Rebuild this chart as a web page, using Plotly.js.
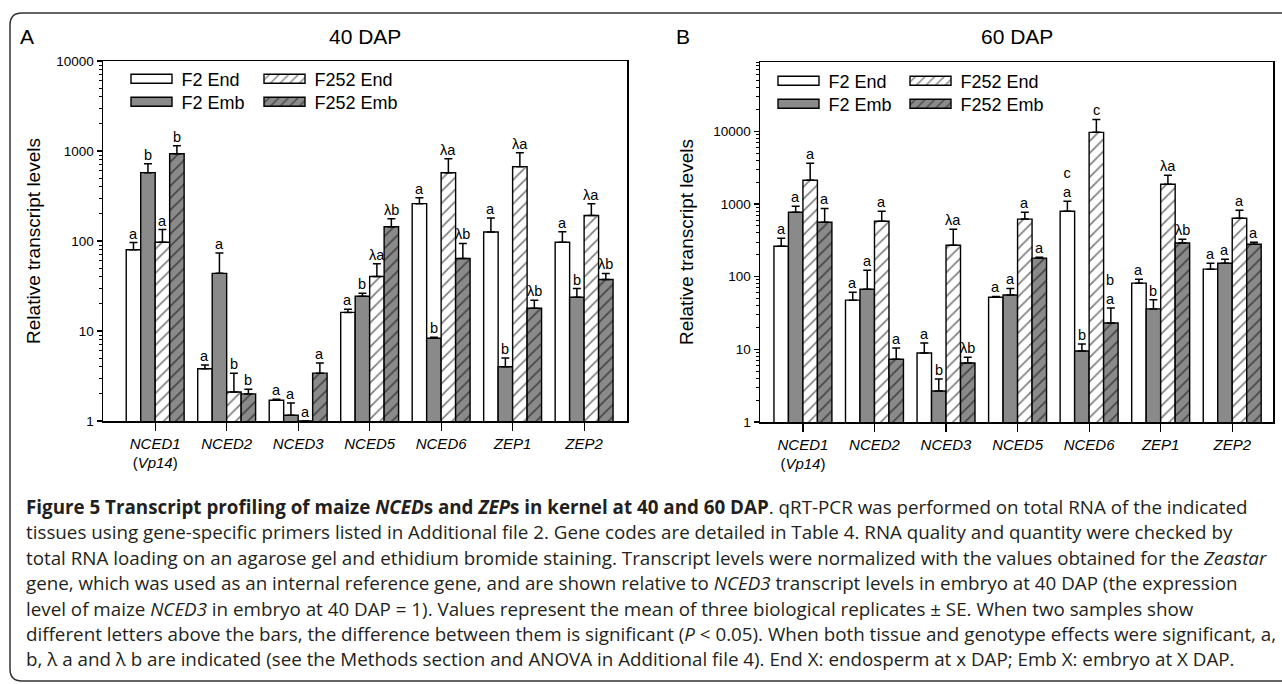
<!DOCTYPE html>
<html><head><meta charset="utf-8">
<script src="https://cdn.plot.ly/plotly-3.0.1.min.js"></script>
<style>html,body{margin:0;padding:0;background:#fff}#chart{width:1282px;height:684px}</style>
</head><body><div id="chart"></div>
<script>
// ---------------- data ----------------
const genes = ['NCED1','NCED2','NCED3','NCED5','NCED6','ZEP1','ZEP2'];
const geneLabels = ['<i>NCED1</i><br>(<i>Vp14</i>)','<i>NCED2</i>','<i>NCED3</i>','<i>NCED5</i>','<i>NCED6</i>','<i>ZEP1</i>','<i>ZEP2</i>'];
const seriesNames = ['F2 End','F2 Emb','F252 End','F252 Emb'];

// 40 DAP
const dap40_F2End      = [80, 3.8, 1.7, 16.1, 260, 126, 97];
const dap40_F2End_se   = [16, 0.4, 0.05, 1.3, 43, 54, 30];
const dap40_F2Emb      = [575, 43.7, 1.16, 24.3, 8.3, 4.0, 23.7];
const dap40_F2Emb_se   = [147, 30, 0.42, 1.9, 0.2, 1.0, 5.9];
const dap40_F252End    = [97, 2.1, 1.0, 40.4, 574, 670, 192];
const dap40_F252End_se = [37, 1.3, 0, 15.6, 246, 286, 68];
const dap40_F252Emb    = [933, 2.0, 3.4, 144, 64, 17.9, 37.4];
const dap40_F252Emb_se = [210, 0.26, 1.0, 33, 30, 4.0, 6.2];
const dap40_letters = [
  ['a','a','a','a','a','a','a'],
  ['b','a','a','b','b','b','b'],
  ['a','b','a','λa','λa','λa','λa'],
  ['b','b','a','λb','λb','λb','λb']
];

// 60 DAP
const dap60_F2End      = [262, 47.5, 8.9, 52, 795, 81.5, 127];
const dap60_F2End_se   = [76, 13.5, 3.3, 1.5, 295, 10.5, 26];
const dap60_F2Emb      = [770, 67, 2.67, 56, 9.5, 36, 153];
const dap60_F2Emb_se   = [160, 56, 1.23, 13, 2.3, 12, 21];
const dap60_F252End    = [2120, 580, 271, 620, 9690, 1870, 637];
const dap60_F252End_se = [1510, 215, 177, 151, 4910, 610, 183];
const dap60_F252Emb    = [562, 7.3, 6.5, 180, 23, 290, 280];
const dap60_F252Emb_se = [308, 3.1, 1.3, 5, 14, 37, 18];
const dap60_letters = [
  ['a','a','a','a','c<br>a','a','a'],
  ['a','a','b','a','b','b','a'],
  ['a','a','λa','a','c','λa','a'],
  ['a','a','λb','a','b<br>a','λb','a']
];

const yTickVals = [1, 10, 100, 1000, 10000];
const yTickText = ['1','10','100','1000','10000'];

// ---------------- style ----------------
const W = 1282, H = 684;
const px = x => x / W, py = y => 1 - y / H;
const GRAY = '#8a8a8a';
const FONT = 'Liberation Sans, Arial, sans-serif';
const bargap = 0.19;
const bw = (1 - bargap) / 4;

const styles = [
  {color: '#ffffff', pattern: {shape: ''}},
  {color: GRAY, pattern: {shape: ''}},
  {color: '#ffffff', pattern: {shape: '/', fgcolor: '#000', bgcolor: '#ffffff', size: 8.5, solidity: 0.2, fillmode: 'overlay'}},
  {color: GRAY, pattern: {shape: '/', fgcolor: '#000', bgcolor: GRAY, size: 8.5, solidity: 0.2, fillmode: 'overlay'}}
];

function panelTraces(vals, ses, xa, ya, legendIds) {
  return vals.map((v, s) => ({
    type: 'bar', name: seriesNames[s], x: genes, y: v,
    xaxis: xa, yaxis: ya, legend: legendIds[s],
    marker: {color: styles[s].color, pattern: styles[s].pattern, line: {color: '#000', width: 1.4}},
    error_y: {type: 'data', symmetric: false, array: ses[s], arrayminus: ses[s].map(() => 0),
              color: '#000', thickness: 1.5, width: 4, visible: true},
    hoverinfo: 'skip'
  }));
}

const tracesA = panelTraces(
  [dap40_F2End, dap40_F2Emb, dap40_F252End, dap40_F252Emb],
  [dap40_F2End_se, dap40_F2Emb_se, dap40_F252End_se, dap40_F252Emb_se],
  'x', 'y', ['legend', 'legend2', 'legend3', 'legend4']);
const tracesB = panelTraces(
  [dap60_F2End, dap60_F2Emb, dap60_F252End, dap60_F252Emb],
  [dap60_F2End_se, dap60_F2Emb_se, dap60_F252End_se, dap60_F252Emb_se],
  'x2', 'y2', ['legend5', 'legend6', 'legend7', 'legend8']);

function letterAnnots(valsArr, seArr, letters, xref, yref) {
  const out = [];
  valsArr.forEach((vals, s) => {
    vals.forEach((v, i) => {
      out.push({
        xref: xref, yref: yref, x: i + (s - 1.5) * bw, y: Math.log10(v + seArr[s][i]),
        text: letters[s][i], showarrow: false, xanchor: 'center', yanchor: 'bottom', yshift: -1,
        font: {family: FONT, size: 14.5, color: '#000'}
      });
    });
  });
  return out;
}

const minorA = [], minorB = [];
for (let e = 0; e < 5; e++) for (let k = 2; k <= 9; k++) {
  const v = k * Math.pow(10, e);
  if (e < 4) minorA.push(v);
  minorB.push(v);
}

function yaxis(domain, range, minorVals, standoff) {
  return {
    type: 'log', domain: domain, range: range,
    tickmode: 'array', tickvals: yTickVals, ticktext: yTickText,
    ticks: 'outside', ticklen: 5, tickwidth: 1.2, tickcolor: '#000',
    minor: {tickmode: 'array', tickvals: minorVals, ticks: 'outside', ticklen: 3, tickwidth: 1, tickcolor: '#000', showgrid: false},
    showgrid: false, zeroline: false, showline: true, mirror: true, linecolor: '#000', linewidth: 1.5,
    tickfont: {family: FONT, size: 13.5, color: '#000'},
    title: {text: 'Relative transcript levels', font: {family: FONT, size: 19, color: '#000'}, standoff: standoff}
  };
}
function xaxis(domain, range) {
  return {
    type: 'category', domain: domain, range: range,
    categoryorder: 'array', categoryarray: genes,
    tickmode: 'array', tickvals: genes, ticktext: geneLabels,
    ticks: 'outside', ticklen: 8, tickwidth: 1.2, tickcolor: '#000',
    showgrid: false, zeroline: false, showline: true, mirror: true, linecolor: '#000', linewidth: 1.5,
    tickfont: {family: FONT, size: 15, color: '#000'}
  };
}

const legendBase = {
  orientation: 'v', xanchor: 'left', yanchor: 'middle', bgcolor: 'rgba(0,0,0,0)', borderwidth: 0,
  font: {family: FONT, size: 18, color: '#000'}, itemwidth: 50, traceorder: 'normal'
};
// legend symbol left edge (px) and row centre (px)
const legendSpots = [[132, 79], [132, 102], [265, 79], [265, 102], [779, 81], [779, 104], [911, 81], [911, 104]];
const legendIds = ['legend','legend2','legend3','legend4','legend5','legend6','legend7','legend8'];

const caption = [
  '<b>Figure 5 Transcript profiling of maize <i>NCED</i>s and <i>ZEP</i>s in kernel at 40 and 60 DAP</b>. qRT-PCR was performed on total RNA of the indicated',
  'tissues using gene-specific primers listed in Additional file 2. Gene codes are detailed in Table 4. RNA quality and quantity were checked by',
  'total RNA loading on an agarose gel and ethidium bromide staining. Transcript levels were normalized with the values obtained for the <i>Zeastar</i>',
  'gene, which was used as an internal reference gene, and are shown relative to <i>NCED3</i> transcript levels in embryo at 40 DAP (the expression',
  'level of maize <i>NCED3</i> in embryo at 40 DAP = 1). Values represent the mean of three biological replicates ± SE. When two samples show',
  'different letters above the bars, the difference between them is significant (<i>P</i> &lt; 0.05). When both tissue and genotype effects were significant, a,',
  'b, λ a and λ b are indicated (see the Methods section and ANOVA in Additional file 4). End X: endosperm at x DAP; Emb X: embryo at X DAP.'
];
const captionTop = 507, captionStep = 25.4;

const titleFont = {family: FONT, size: 21, color: '#000'};
const annotations = [
  ...letterAnnots([dap40_F2End, dap40_F2Emb, dap40_F252End, dap40_F252Emb],
                  [dap40_F2End_se, dap40_F2Emb_se, dap40_F252End_se, dap40_F252Emb_se], dap40_letters, 'x', 'y'),
  ...letterAnnots([dap60_F2End, dap60_F2Emb, dap60_F252End, dap60_F252Emb],
                  [dap60_F2End_se, dap60_F2Emb_se, dap60_F252End_se, dap60_F252Emb_se], dap60_letters, 'x2', 'y2'),
  {xref: 'paper', yref: 'paper', x: px(27), y: py(37), xanchor: 'center', yanchor: 'middle', text: 'A', showarrow: false, font: titleFont},
  {xref: 'paper', yref: 'paper', x: px(365), y: py(37), xanchor: 'center', yanchor: 'middle', text: '40 DAP', showarrow: false, font: titleFont},
  {xref: 'paper', yref: 'paper', x: px(683), y: py(37), xanchor: 'center', yanchor: 'middle', text: 'B', showarrow: false, font: titleFont},
  {xref: 'paper', yref: 'paper', x: px(1017), y: py(37), xanchor: 'center', yanchor: 'middle', text: '60 DAP', showarrow: false, font: titleFont},
  ...caption.map((t, i) => ({
    xref: 'paper', yref: 'paper', x: px(24), y: py(captionTop + i * captionStep), xanchor: 'left', yanchor: 'middle',
    text: t, showarrow: false, align: 'left', font: {family: 'Open Sans, sans-serif', size: 18.8, color: '#231f20'}
  }))
];

const borderPath = `M ${px(1295)} ${py(13)} L ${px(22)} ${py(13)} Q ${px(10)} ${py(13)} ${px(10)} ${py(25)} L ${px(10)} ${py(669)} Q ${px(10)} ${py(681)} ${px(22)} ${py(681)} L ${px(1295)} ${py(681)}`;

const layout = {
  width: W, height: H, margin: {l: 0, r: 0, t: 0, b: 0},
  paper_bgcolor: '#fff', plot_bgcolor: '#fff',
  barmode: 'group', bargap: bargap, bargroupgap: 0,
  showlegend: true,
  xaxis: Object.assign(xaxis([px(103), px(627)], [-0.73, 6.6]), {anchor: 'y'}),
  yaxis: Object.assign(yaxis([py(421), py(61)], [0, 4], minorA, 10), {anchor: 'x'}),
  xaxis2: Object.assign(xaxis([px(760), px(1273)], [-0.6, 6.57]), {anchor: 'y2'}),
  yaxis2: Object.assign(yaxis([py(422), py(62)], [0, Math.log10(90000)], minorB, 14), {anchor: 'x2'}),
  annotations: annotations,
  shapes: [{type: 'path', xref: 'paper', yref: 'paper', path: borderPath, line: {color: '#333', width: 1.5}}]
};
legendIds.forEach((id, k) => {
  layout[id] = Object.assign({}, legendBase, {x: px(legendSpots[k][0] - 10.5), y: py(legendSpots[k][1])});
});

function widenLegendSymbols(gd) {
  gd.querySelectorAll('.legendpoints path').forEach(p => {
    if (p.getAttribute('d') !== 'M20.5,4.5H-20.5V-4.5H20.5Z') p.setAttribute('d', 'M20.5,4.5H-20.5V-4.5H20.5Z');
  });
}
Plotly.newPlot('chart', [...tracesA, ...tracesB], layout, {staticPlot: true}).then(gd => {
  widenLegendSymbols(gd);
  gd.on('plotly_afterplot', () => widenLegendSymbols(gd));
  setTimeout(() => widenLegendSymbols(gd), 50);
  setTimeout(() => widenLegendSymbols(gd), 300);
});
</script>
</body></html>
